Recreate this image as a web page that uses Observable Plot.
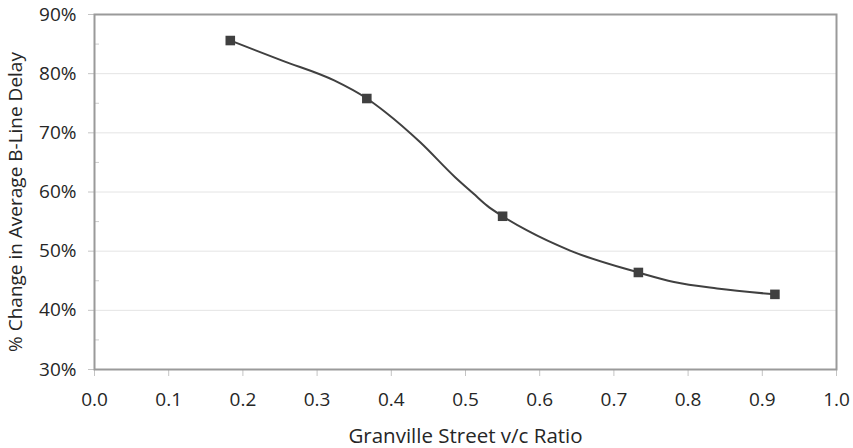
<!DOCTYPE html>
<html>
<head>
<meta charset="utf-8">
<script src="https://cdn.jsdelivr.net/npm/d3@7"></script>
<script src="https://cdn.jsdelivr.net/npm/@observablehq/plot@0.6"></script>
<style>
  html, body { margin: 0; padding: 0; background: #ffffff; }
  #chart svg { display: block; }
  #chart svg text { font-family: 'Open Sans', sans-serif !important; fill: #262626; }
  #chart g[aria-label="x-axis tick label"] text,
  #chart g[aria-label="y-axis tick label"] text { font-size: 19px !important; }
  #chart g[aria-label="x-axis label"] text { font-size: 20.5px !important; }
  #chart g[aria-label="y-axis label"] text { font-size: 19px !important; }
</style>
</head>
<body>
<div id="chart"></div>
<script>
// Marker points (v/c ratio, % change in delay)
const markerX = [0.183, 0.367, 0.550, 0.733, 0.917];
const markerY = [0.856, 0.758, 0.559, 0.464, 0.427];

// Line points
const curveX = [0.183, 0.253, 0.323, 0.367, 0.393, 0.439, 0.486, 0.511, 0.529, 0.550, 0.583, 0.641, 0.733, 0.781, 0.839, 0.917];
const curveY = [0.856, 0.822, 0.7885, 0.758, 0.734, 0.684, 0.625, 0.597, 0.577, 0.559, 0.535, 0.501, 0.464, 0.448, 0.437, 0.427];

const xTicks = [0, 0.1, 0.2, 0.3, 0.4, 0.5, 0.6, 0.7, 0.8, 0.9, 1.0];
const yTicks = [0.3, 0.4, 0.5, 0.6, 0.7, 0.8, 0.9];
const yMinorTicks = [0.35, 0.45, 0.55, 0.65, 0.75, 0.85];

const xTitle = "Granville Street v/c Ratio";
const yTitle = "% Change in Average B-Line Delay";

const markers = markerX.map((x, i) => ({x, y: markerY[i]}));
const curve = curveX.map((x, i) => ({x, y: curveY[i]}));

const chart = Plot.plot({
  width: 853,
  height: 448,
  marginLeft: 94,
  marginRight: 17,
  marginTop: 14,
  marginBottom: 79,
  style: {fontFamily: "'Open Sans', sans-serif", fontSize: "16px", color: "#262626", background: "#ffffff", overflow: "visible"},
  x: {domain: [0, 1]},
  y: {domain: [0.3, 0.9]},
  marks: [
    Plot.gridY(yTicks, {stroke: "#e4e4e4", strokeOpacity: 1}),
    Plot.axisY(yMinorTicks, {tickSize: -5, text: null, stroke: "#cccccc", label: null}),
    Plot.axisY(yTicks, {tickFormat: d3.format(".0%"), tickSize: 6, tickPadding: 12, stroke: "#c4c4c4",
      label: yTitle, labelAnchor: "center", labelArrow: "none", labelOffset: 86}),
    Plot.axisX(xTicks, {tickFormat: d3.format(".1f"), tickSize: 7, tickPadding: 16, stroke: "#c4c4c4",
      label: xTitle, labelAnchor: "center", labelArrow: "none", labelOffset: 73}),
    Plot.frame({stroke: "#9a9a9a", strokeWidth: 2}),
    Plot.line(curve, {x: "x", y: "y", curve: "monotone-x", stroke: "#404040", strokeWidth: 2}),
    Plot.dot(markers, {x: "x", y: "y", symbol: "square", r: 5.4, fill: "#404040", stroke: "none"})
  ]
});
// nudge the y-axis title slightly downward, as in the reference
const yLab = chart.querySelector('g[aria-label="y-axis label"]');
if (yLab) yLab.setAttribute("transform", (yLab.getAttribute("transform") || "") + " translate(0,10)");
document.getElementById("chart").appendChild(chart);
</script>
</body>
</html>
